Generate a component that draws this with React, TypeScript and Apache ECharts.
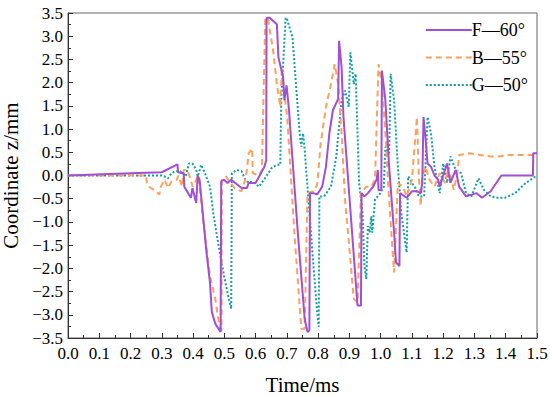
import React, { useEffect, useRef } from "react";
import * as echarts from "echarts";

const seriesNames = ["F—60°", "B—55°", "G—50°"];
const colors = ["#a04fd6", "#ffa05c", "#12a0a0"];

const dataF: [number, number][] = [[0,0],[0.2,0.05],[0.25,0.06],[0.30,0.07],[0.35,0.24],[0.352,0.07],[0.37,0.05],[0.372,-0.24],[0.393,-0.48],[0.398,-0.27],[0.41,-0.59],[0.415,0.0],[0.421,-0.1],[0.432,-0.88],[0.443,-1.66],[0.454,-2.30],[0.46,-2.94],[0.471,-3.19],[0.488,-3.37],[0.490,-0.13],[0.499,-0.09],[0.510,-0.16],[0.522,-0.09],[0.555,-0.27],[0.572,-0.27],[0.578,-0.16],[0.600,-0.16],[0.617,0.05],[0.628,0.19],[0.634,0.33],[0.635,3.40],[0.645,3.40],[0.668,3.26],[0.673,2.54],[0.688,2.12],[0.692,1.62],[0.699,1.94],[0.707,1.40],[0.712,0.91],[0.735,-1.23],[0.757,-3.09],[0.766,-3.37],[0.772,-3.34],[0.774,-0.38],[0.785,-0.38],[0.797,-0.41],[0.813,-0.24],[0.825,0.19],[0.836,0.91],[0.847,1.40],[0.864,1.65],[0.867,2.90],[0.875,2.33],[0.881,1.26],[0.926,-2.80],[0.937,-2.80],[0.939,-0.38],[0.948,-0.45],[0.959,-0.38],[0.976,-0.24],[0.987,-0.09],[0.991,0.12],[0.993,-0.31],[1.002,-0.31],[1.004,2.26],[1.015,1.62],[1.027,0.19],[1.043,-1.23],[1.049,-1.87],[1.060,-1.95],[1.062,-0.38],[1.083,-0.48],[1.100,-0.34],[1.116,-0.34],[1.128,-0.38],[1.133,-0.16],[1.137,1.26],[1.144,0.76],[1.150,0.26],[1.161,0.19],[1.172,0.0],[1.184,-0.09],[1.189,-0.24],[1.212,0.26],[1.223,-0.16],[1.240,0.12],[1.251,-0.24],[1.273,-0.45],[1.307,-0.38],[1.324,-0.48],[1.352,-0.34],[1.386,0.0],[1.487,0.0],[1.488,0.48],[1.5,0.48]];

const dataB: [number, number][] = [[0,0],[0.25,0],[0.252,-0.16],[0.258,-0.24],[0.275,-0.31],[0.292,-0.41],[0.297,-0.24],[0.309,-0.09],[0.320,-0.27],[0.331,-0.13],[0.348,-0.09],[0.353,0.0],[0.365,-0.24],[0.370,0.12],[0.381,0.12],[0.393,-0.09],[0.398,-0.24],[0.410,-0.1],[0.415,0.0],[0.421,-0.24],[0.432,-0.95],[0.454,-2.16],[0.471,-2.66],[0.482,-3.16],[0.491,-3.34],[0.492,-0.09],[0.505,-0.02],[0.516,-0.13],[0.533,-0.27],[0.555,-0.34],[0.567,-0.09],[0.572,0.12],[0.578,0.48],[0.589,0.58],[0.591,0.05],[0.611,0.0],[0.620,0.12],[0.631,3.40],[0.640,3.36],[0.656,2.69],[0.668,1.97],[0.679,1.48],[0.684,2.33],[0.692,1.76],[0.701,1.26],[0.724,-1.23],[0.746,-3.30],[0.757,-3.30],[0.766,-0.38],[0.785,-0.34],[0.797,-0.20],[0.808,0.69],[0.825,1.48],[0.841,1.97],[0.853,2.40],[0.864,1.97],[0.875,0.91],[0.886,-0.52],[0.903,-1.80],[0.914,-2.66],[0.926,-2.73],[0.937,-0.38],[0.954,-0.24],[0.970,-0.24],[0.982,-0.09],[0.993,2.40],[1.004,1.97],[1.015,0.91],[1.027,-0.52],[1.038,-1.60],[1.043,-2.09],[1.055,-0.16],[1.071,-0.24],[1.083,-0.45],[1.100,-0.09],[1.116,1.26],[1.122,0.0],[1.128,-0.66],[1.133,-0.02],[1.144,0.19],[1.156,-0.09],[1.172,-0.24],[1.189,0.05],[1.206,-0.16],[1.217,0.19],[1.234,-0.31],[1.245,0.05],[1.251,0.44],[1.285,0.48],[1.318,0.44],[1.352,0.41],[1.374,0.41],[1.408,0.44],[1.453,0.44],[1.5,0.44]];

const dataG: [number, number][] = [[0,0],[0.30,0],[0.309,-0.02],[0.320,-0.06],[0.331,0.05],[0.342,0.09],[0.359,0.09],[0.376,-0.02],[0.387,0.26],[0.398,0.26],[0.410,0.12],[0.415,-0.02],[0.426,0.23],[0.438,0.05],[0.454,-0.24],[0.466,-0.88],[0.482,-1.52],[0.499,-2.16],[0.510,-2.52],[0.522,-2.87],[0.524,0.05],[0.539,0.12],[0.555,0.09],[0.567,-0.09],[0.578,-0.16],[0.589,-0.13],[0.611,-0.24],[0.634,-0.02],[0.651,0.16],[0.668,0.23],[0.679,0.23],[0.682,1.62],[0.696,3.40],[0.701,3.36],[0.718,2.97],[0.729,1.97],[0.741,0.91],[0.746,0.62],[0.752,0.91],[0.757,0.55],[0.769,-0.52],[0.785,-1.95],[0.797,-2.94],[0.802,-3.26],[0.804,-0.45],[0.819,-0.45],[0.841,-0.24],[0.858,0.41],[0.875,1.62],[0.886,1.83],[0.898,1.48],[0.903,2.65],[0.914,1.97],[0.920,2.19],[0.931,-0.16],[0.942,-0.81],[0.948,-1.95],[0.954,-2.23],[0.959,-1.09],[0.965,-1.23],[0.970,-0.88],[0.973,-1.23],[0.982,-0.52],[0.999,-0.38],[1.010,-0.24],[1.015,0.62],[1.027,0.48],[1.032,2.19],[1.043,1.62],[1.055,0.19],[1.066,-0.81],[1.083,-1.66],[1.088,-0.02],[1.100,-0.16],[1.111,-0.27],[1.122,-0.45],[1.139,-0.45],[1.150,1.26],[1.161,0.91],[1.172,0.19],[1.189,-0.38],[1.200,0.26],[1.212,-0.16],[1.223,0.41],[1.240,0.12],[1.257,0.05],[1.273,-0.38],[1.290,-0.45],[1.313,-0.06],[1.330,-0.31],[1.352,-0.45],[1.374,-0.48],[1.397,-0.48],[1.430,-0.38],[1.464,-0.16],[1.5,0.0]];

const xAxisTitle = "Time/ms";
const yAxisTitle = "Coordinate z/mm";

const FONT = "Liberation Serif";

export default function App() {
  const ref = useRef<HTMLDivElement>(null);
  useEffect(() => {
    if (!ref.current) return;
    const chart = echarts.init(ref.current, undefined, { renderer: "svg" });
    const axisColor = "#333";
    const fmt = (v: number) => {
      const s = Math.abs(v).toFixed(1);
      return v < -1e-9 ? "\u2212" + s : s;
    };
    chart.setOption({
      animation: false,
      backgroundColor: "#fff",
      textStyle: { fontFamily: FONT, fontSize: 17 },
      grid: {
        left: 68,
        right: 13,
        top: 13,
        bottom: 58,
        outerBoundsMode: "none",
        containLabel: false,
        show: true,
        borderColor: "#666",
        borderWidth: 1,
        backgroundColor: "transparent",
      },
      legend: {
        orient: "vertical",
        right: 22,
        top: 21,
        padding: 0,
        itemWidth: 46,
        itemHeight: 14,
        itemGap: 9.5,
        itemStyle: { opacity: 0 },
        textStyle: { fontFamily: FONT, fontSize: 18, color: "#000", padding: [0, 0, 0, -5] },
        data: seriesNames,
      },
      xAxis: {
        type: "value",
        min: 0,
        max: 1.5,
        interval: 0.1,
        name: xAxisTitle,
        nameLocation: "middle",
        nameGap: 36,
        nameTextStyle: { fontFamily: FONT, fontSize: 21, color: "#000" },
        axisLine: { show: true, onZero: false, lineStyle: { color: axisColor, width: 1 } },
        axisTick: { show: true, inside: true, length: 5, lineStyle: { color: axisColor } },
        minorTick: { show: true, splitNumber: 2, length: 3, lineStyle: { color: axisColor } },
        splitLine: { show: false },
        axisLabel: {
          show: true,
          fontFamily: FONT,
          fontSize: 17,
          color: "#000",
          margin: 7,
          formatter: fmt,
        },
      },
      yAxis: {
        type: "value",
        min: -3.5,
        max: 3.5,
        interval: 0.5,
        name: yAxisTitle,
        nameLocation: "middle",
        nameGap: 44,
        nameTextStyle: { fontFamily: FONT, fontSize: 21, color: "#000" },
        axisLine: { show: true, onZero: false, lineStyle: { color: axisColor, width: 1 } },
        axisTick: { show: true, inside: true, length: 5, lineStyle: { color: axisColor } },
        minorTick: { show: true, splitNumber: 2, length: 3, lineStyle: { color: axisColor } },
        splitLine: { show: false },
        axisLabel: {
          show: true,
          fontFamily: FONT,
          fontSize: 17,
          color: "#000",
          margin: 5,
          padding: [0, 0, 4, 0],
          formatter: fmt,
        },
      },
      series: [
        {
          name: seriesNames[0],
          type: "line",
          data: dataF,
          symbol: "none",
          z: 3,
          lineStyle: { color: colors[0], width: 2 },
          itemStyle: { color: colors[0] },
        },
        {
          name: seriesNames[1],
          type: "line",
          data: dataB,
          symbol: "none",
          z: 2,
          lineStyle: { color: colors[1], width: 2, type: [6, 4] },
          itemStyle: { color: colors[1] },
        },
        {
          name: seriesNames[2],
          type: "line",
          data: dataG,
          symbol: "none",
          z: 1,
          lineStyle: { color: colors[2], width: 2, type: [2, 2] },
          itemStyle: { color: colors[2] },
        },
      ],
    });
    return () => chart.dispose();
  }, []);
  return (
    <div
      ref={ref}
      style={{ position: "fixed", left: 0, top: 0, width: 550, height: 396 }}
    />
  );
}
